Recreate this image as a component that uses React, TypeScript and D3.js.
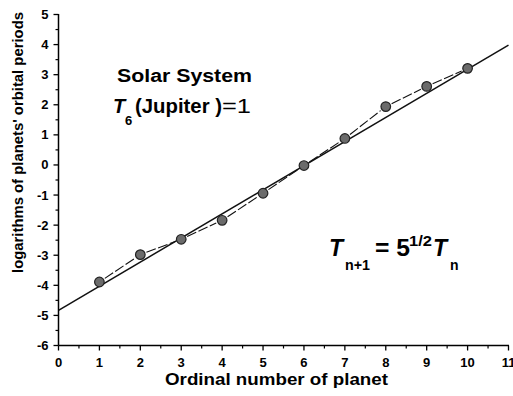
import React from 'react';
import * as d3 from 'd3';

// planet ordinal numbers and ln of orbital periods (Jupiter = 1)
const planets = [1, 2, 3, 4, 5, 6, 7, 8, 9, 10];
const logPeriods = [-3.89, -2.98, -2.47, -1.84, -0.94, -0.02, 0.88, 1.94, 2.61, 3.21];

// fitted line T(n+1) = 5^(1/2) T(n), endpoints
const fitX = [0, 11];
const fitY = [-4.83, 3.98];

const xTicks = [0, 1, 2, 3, 4, 5, 6, 7, 8, 9, 10, 11];
const yTicks = [-6, -5, -4, -3, -2, -1, 0, 1, 2, 3, 4, 5];

const W = 513;
const H = 396;
const FONT = "'Liberation Sans', Arial, sans-serif";
const SA = 'spacingAndGlyphs';

const App = () => {
    const x = d3.scaleLinear().domain([0, 11]).range([58.5, 508.5]);
    const y = d3.scaleLinear().domain([-6, 5]).range([345.5, 14.5]);

    const x0 = x(0);
    const y0 = y(-6);

    const xMinor = d3.range(0.5, 11, 1);
    const yMinor = d3.range(-5.5, 5, 1);

    const fitLine = d3.line<number>()
        .x((_, i) => x(fitX[i]))
        .y(d => y(d));

    const pts = planets.map((p, i) => [x(p), y(logPeriods[i])]);

    // connecting segments, stopped short of the markers
    const gap = 6.5;
    const segments = pts.slice(1).map((b, i) => {
        const a = pts[i];
        const dx = b[0] - a[0];
        const dy = b[1] - a[1];
        const len = Math.hypot(dx, dy);
        const ux = dx / len, uy = dy / len;
        return [a[0] + ux * gap, a[1] + uy * gap, b[0] - ux * gap, b[1] - uy * gap];
    });

    return (
        <svg width={W} height={H} style={{ position: 'absolute', left: 0, top: 0, background: '#fff' }}
            fontFamily={FONT}>
            {/* fit line */}
            <path d={fitLine(fitY) || ''} fill="none" stroke="#111" strokeWidth={1.5} />

            {/* dashed point-to-point line */}
            {segments.map((s, i) => (
                <line key={i} x1={s[0]} y1={s[1]} x2={s[2]} y2={s[3]}
                    stroke="#111" strokeWidth={1.1} strokeDasharray="10 2.5" />
            ))}

            {/* markers */}
            {pts.map((p, i) => (
                <circle key={i} cx={p[0]} cy={p[1]} r={4.8} fill="#6b6b6b" stroke="#222" strokeWidth={1.2} />
            ))}

            {/* axes */}
            <line x1={x0} x2={x(11) + 0.5} y1={y0} y2={y0} stroke="#000" strokeWidth={1.5} />
            <line x1={x0} x2={x0} y1={y(5) - 0.5} y2={y0} stroke="#000" strokeWidth={1.5} />

            {xTicks.map(t => (
                <g key={'x' + t}>
                    <line x1={x(t)} x2={x(t)} y1={y0} y2={y0 + 5} stroke="#000" strokeWidth={1.3} />
                    <text x={x(t)} y={y0 + 21} textAnchor="middle" fontSize={13} fontWeight="bold">{t}</text>
                </g>
            ))}
            {xMinor.map(t => (
                <line key={'xm' + t} x1={x(t)} x2={x(t)} y1={y0} y2={y0 + 3} stroke="#000" strokeWidth={1.2} />
            ))}

            {yTicks.map(t => (
                <g key={'y' + t}>
                    <line x1={x0 - 5} x2={x0} y1={y(t)} y2={y(t)} stroke="#000" strokeWidth={1.3} />
                    <text x={x0 - 10} y={y(t) + 4.5} textAnchor="end" fontSize={13} fontWeight="bold">{t}</text>
                </g>
            ))}
            {yMinor.map(t => (
                <line key={'ym' + t} x1={x0 - 3} x2={x0} y1={y(t)} y2={y(t)} stroke="#000" strokeWidth={1.2} />
            ))}

            {/* axis titles */}
            <text x={165} y={385} fontSize={17} fontWeight="bold" textLength={223} lengthAdjust={SA}>
                Ordinal number of planet
            </text>
            <text transform="translate(22.5,273) rotate(-90)" fontSize={14} fontWeight="bold"
                textLength={261} lengthAdjust={SA}>
                logarithms of planets' orbital periods
            </text>

            {/* annotations */}
            <text x={117} y={82} fontSize={18} fontWeight="bold" textLength={135} lengthAdjust={SA}>Solar System</text>

            <text x={113} y={113} fontSize={20} fontWeight="bold" fontStyle="italic">T</text>
            <text x={125} y={125} fontSize={13} fontWeight="bold">6</text>
            <text x={135} y={113} fontSize={20} fontWeight="bold" textLength={87} lengthAdjust={SA}>(Jupiter )</text>
            <text x={222} y={113} fontSize={20} textLength={29} lengthAdjust={SA}>=1</text>

            <text x={329} y={256} fontSize={23} fontWeight="bold" fontStyle="italic">T</text>
            <text x={345} y={270} fontSize={14} fontWeight="bold" textLength={25} lengthAdjust={SA}>n+1</text>
            <text x={375} y={256} fontSize={23} fontWeight="bold" textLength={35} lengthAdjust={SA}>= 5</text>
            <text x={409} y={246} fontSize={14} fontWeight="bold" textLength={23} lengthAdjust={SA}>1/2</text>
            <text x={433} y={256} fontSize={23} fontWeight="bold" fontStyle="italic">T</text>
            <text x={450} y={270} fontSize={14} fontWeight="bold">n</text>
        </svg>
    );
};

export default App;
